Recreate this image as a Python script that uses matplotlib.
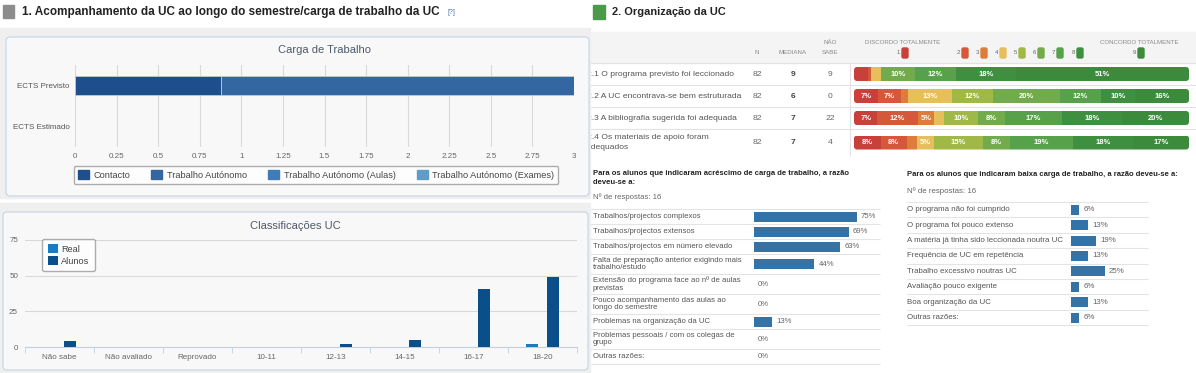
import numpy as np
import matplotlib
matplotlib.use("Agg")
import matplotlib.pyplot as plt
from matplotlib.patches import Rectangle, FancyBboxPatch, Patch

# ---- data ----
carga_cats = ["ECTS Previsto", "ECTS Estimado"]
contacto = [0.875, 0]
trab_autonomo = [2.125, 0]
trab_aulas = [0, 0]
trab_exames = [0, 0]

grades = ["Não sabe", "Não avaliado", "Reprovado", "10-11", "12-13", "14-15", "16-17", "18-20"]
real = [0, 0, 0, 0, 0, 0, 0, 2]
alunos = [4, 0, 0, 0, 2, 5, 41, 49]

questions = ["2.1 O programa previsto foi leccionado",
             "2.2 A UC encontrava-se bem estruturada",
             "2.3 A bibliografia sugerida foi adequada",
             "2.4 Os materiais de apoio foram\nadequados"]
n_resp = [82, 82, 82, 82]
mediana = [9, 6, 7, 7]
nao_sabe = [9, 0, 22, 4]
q21 = [4, 1, 0, 3, 0, 10, 12, 18, 51]
q22 = [7, 7, 2, 13, 12, 20, 12, 10, 16]
q23 = [7, 12, 5, 3, 10, 8, 17, 18, 20]
q24 = [8, 8, 3, 5, 15, 8, 19, 18, 17]

acr_labels = ["Trabalhos/projectos complexos",
              "Trabalhos/projectos extensos",
              "Trabalhos/projectos em número elevado",
              "Falta de preparação anterior exigindo mais\ntrabalho/estudo",
              "Extensão do programa face ao nº de aulas\nprevistas",
              "Pouco acompanhamento das aulas ao\nlongo do semestre",
              "Problemas na organização da UC",
              "Problemas pessoais / com os colegas de\ngrupo",
              "Outras razões:"]
acr_vals = [75, 69, 63, 44, 0, 0, 13, 0, 0]

baixa_labels = ["O programa não foi cumprido",
                "O programa foi pouco extenso",
                "A matéria já tinha sido leccionada noutra UC",
                "Frequência de UC em repetência",
                "Trabalho excessivo noutras UC",
                "Avaliação pouco exigente",
                "Boa organização da UC",
                "Outras razões:"]
baixa_vals = [6, 13, 19, 13, 25, 6, 13, 6]

# ---- figure setup ----
W, H = 1196, 373
HTML = ["Liberation Sans", "DejaVu Sans"]
HC = ["Liberation Sans Narrow", "Liberation Sans", "DejaVu Sans"]
plt.rcParams["font.family"] = HTML

fig = plt.figure(figsize=(W / 100, H / 100), dpi=100)
bg = fig.add_axes([0, 0, 1, 1])
bg.set_xlim(0, W)
bg.set_ylim(H, 0)
bg.axis("off")


def add_ax(x0, y0, x1, y1):
    return fig.add_axes([x0 / W, 1 - y1 / H, (x1 - x0) / W, (y1 - y0) / H])


# ================= right section (drawn first, left panels overlap it) =================
bg.add_patch(Rectangle((593, 5), 12, 14, color="#4a9a48", zorder=3))
bg.text(612, 12, "2. Organização da UC", fontsize=7.9, fontweight="bold", va="center", color="#222")

bg.add_patch(Rectangle((590, 32), W - 590, 31, color="#f4f4f4", zorder=0))
hdr_kw = dict(fontsize=4.4, color="#888", ha="center", va="center")
bg.text(757, 52, "N", **hdr_kw)
bg.text(793, 52, "MEDIANA", **hdr_kw)
bg.text(830, 42, "NÃO", **hdr_kw)
bg.text(830, 52, "SABE", **hdr_kw)
bg.text(903, 43, "DISCORDO TOTALMENTE", **hdr_kw)
bg.text(1139, 43, "CONCORDO TOTALMENTE", **hdr_kw)

likert_colors = ["#c8403a", "#d6583a", "#de7c3a", "#e6bf5c", "#a0b846",
                 "#72ab4c", "#58a14b", "#3f8f41", "#3c8b3d"]
swatch_x = [903, 963, 982, 1001, 1020, 1039, 1058, 1078, 1139]
for i, (sx, c) in enumerate(zip(swatch_x, likert_colors)):
    bg.add_patch(FancyBboxPatch((sx - 1, 48), 6, 10, boxstyle="round,pad=0,rounding_size=1.5",
                                color=c, zorder=3))
    bg.text(sx - 3, 53, str(i + 1), fontsize=4.4, color="#666", ha="right", va="center")

# rows of the table
row_h = [22 if "\n" not in q else 27 for q in questions]
top = 63
row_c = []
y = top
for h in row_h:
    row_c.append(y + h / 2)
    y += h
bg.hlines([top] + list(np.cumsum(row_h)[:-1] + top), 590, W, color="#e2e2e2", lw=0.8)
bg.vlines(850, top, y, color="#e2e2e2", lw=0.8)
for q, c, n, m, ns in zip(questions, row_c, n_resp, mediana, nao_sabe):
    bg.text(587, c, q, fontsize=6.1, color="#555", va="center", linespacing=1.45, zorder=1)
    bg.text(757, c, str(n), fontsize=6.1, color="#666", ha="center", va="center")
    bg.text(793, c, str(m), fontsize=6.1, color="#444", ha="center", va="center", fontweight="bold")
    bg.text(830, c, str(ns), fontsize=6.1, color="#666", ha="center", va="center")

ax3 = add_ax(854, top, 1189, y)
ax3.set_xlim(0, 100)
ax3.set_ylim(y - top, 0)
ax3.axis("off")
bar_h = 14
# one x unit is 3.35 px, one y unit is 1 px
for row, c in zip([q21, q22, q23, q24], row_c):
    vals = np.array(row, dtype=float)
    widths = vals / vals.sum() * 100
    lefts = np.concatenate([[0], np.cumsum(widths)[:-1]])
    clip = FancyBboxPatch((0, c - top - bar_h / 2), 100, bar_h,
                          boxstyle="round,pad=0,rounding_size=0.9", mutation_aspect=3.35,
                          fc="none", lw=0)
    ax3.add_patch(clip)
    bars = ax3.barh([c - top] * len(vals), widths, left=lefts, height=bar_h, color=likert_colors, lw=0)
    for b in bars:
        b.set_clip_path(clip)
    for v, w, l in zip(row, widths, lefts):
        if v >= 5:
            ax3.text(l + w / 2, c - top, f"{v}%", color="white", fontsize=5.5,
                     fontweight="bold", ha="center", va="center")

# list: acréscimo de carga
bg.text(593, 178, "Para os alunos que indicaram acréscimo de carga de trabalho, a razão\ndeveu-se a:",
        fontsize=5.5, fontweight="bold", color="#222", va="center", linespacing=1.25)
bg.text(593, 197, "Nº de respostas: 16", fontsize=5.6, color="#666", va="center")
acr_h = [15 if "\n" not in s else 20 for s in acr_labels]
acr_top = 209
acr_bot = acr_top + sum(acr_h)
edges = acr_top + np.concatenate([[0], np.cumsum(acr_h)])
bg.hlines(edges, 590, 880, color="#e4e4e4", lw=0.8)
acr_c = (edges[:-1] + edges[1:]) / 2
for s, c in zip(acr_labels, acr_c):
    bg.text(593, c, s, fontsize=5.6, color="#555", va="center", linespacing=1.1)
ax4 = add_ax(754, acr_top, 891, acr_bot)
ax4.set_xlim(0, 100)
ax4.set_ylim(acr_bot, acr_top)
ax4.axis("off")
ax4.barh(acr_c, acr_vals, height=10, color="#3572a5", lw=0)
for v, c in zip(acr_vals, acr_c):
    ax4.annotate(f"{v}%", (v, c), xytext=(3, 0), textcoords="offset points",
                 fontsize=5.6, color="#666", va="center")

# list: baixa carga
bg.text(907, 175, "Para os alunos que indicaram baixa carga de trabalho, a razão deveu-se a:",
        fontsize=5.5, fontweight="bold", color="#222", va="center")
bg.text(907, 191, "Nº de respostas: 16", fontsize=5.7, color="#666", va="center")
b_top, b_h = 202, 15.4
b_edges = b_top + b_h * np.arange(len(baixa_labels) + 1)
bg.hlines(b_edges, 907, 1148, color="#e4e4e4", lw=0.8)
b_c = (b_edges[:-1] + b_edges[1:]) / 2
for s, c in zip(baixa_labels, b_c):
    bg.text(907, c, s, fontsize=5.7, color="#555", va="center")
ax5 = add_ax(1071, b_top, 1138, b_edges[-1])
ax5.set_xlim(0, 50)
ax5.set_ylim(b_edges[-1], b_top)
ax5.axis("off")
ax5.barh(b_c, baixa_vals, height=10, color="#3572a5", lw=0)
for v, c in zip(baixa_vals, b_c):
    ax5.annotate(f"{v}%", (v, c), xytext=(3, 0), textcoords="offset points",
                 fontsize=5.7, color="#666", va="center")

# ================= left section =================
bg.add_patch(Rectangle((3, 5), 11, 13, color="#8c8c8c", zorder=3))
bg.text(22, 12, "1. Acompanhamento da UC ao longo do semestre/carga de trabalho da UC",
        fontsize=8.5, fontweight="bold", va="center", color="#222")
bg.text(447, 13, "[?]", fontsize=5, color="#4a7ab5", va="center")

bg.add_patch(Rectangle((0, 28), 590, 170, color="#efefef", zorder=2))
bg.add_patch(FancyBboxPatch((6, 37), 583, 159, boxstyle="round,pad=0,rounding_size=4",
                            fc="#f8f8f8", ec="#c5d3e3", lw=0.8, zorder=2))
bg.add_patch(Rectangle((0, 203), 590, 170, color="#efefef", zorder=2))
bg.add_patch(FancyBboxPatch((3, 212), 585, 158, boxstyle="round,pad=0,rounding_size=4",
                            fc="#f8f8f8", ec="#c5d3e3", lw=0.8, zorder=2))

bg.text(324, 50, "Carga de Trabalho", fontsize=8, color="#4d5a6a", ha="center", va="center",
        family=HC, zorder=4)
bg.text(295, 226, "Classificações UC", fontsize=8, color="#4d5a6a", ha="center", va="center",
        family=HC, zorder=4)

# Carga de Trabalho
carga_colors = ["#1f4e8c", "#3466a2", "#3f7db9", "#5f9cc9"]
carga_names = ["Contacto", "Trabalho Autónomo", "Trabalho Autónomo (Aulas)", "Trabalho Autónomo (Exames)"]
ax1 = add_ax(75, 65, 574, 147)
ax1.set_facecolor("none")
yy = np.arange(len(carga_cats))
left = np.zeros(len(carga_cats))
for vals, col in zip([contacto, trab_autonomo, trab_aulas, trab_exames], carga_colors):
    vals = np.array(vals, dtype=float)
    m = vals > 0
    ax1.barh(yy[m], vals[m], left=left[m], height=0.47, color=col, edgecolor="#c9c9c9", lw=0.6, zorder=3)
    left += vals
ax1.set_xlim(0, 3)
ax1.set_ylim(1.5, -0.5)
xt = np.arange(0, 3.01, 0.25)
ax1.set_xticks(xt)
ax1.set_xticklabels([f"{v:g}" for v in xt], fontsize=5.8, color="#666", family=HC)
ax1.set_yticks(yy)
ax1.set_yticklabels(carga_cats, fontsize=5.8, color="#555", family=HC)
ax1.tick_params(length=0, pad=4)
ax1.grid(axis="x", color="#d9d9d9", lw=0.8)
ax1.set_axisbelow(True)
for s in ax1.spines.values():
    s.set_visible(False)
leg1 = ax1.legend([Patch(color=c) for c in carga_colors], carga_names, ncol=4, loc="center",
                  bbox_to_anchor=(316 / W, 1 - 175 / H), bbox_transform=fig.transFigure,
                  prop={"family": HC, "size": 6.6}, frameon=True, fancybox=True, edgecolor="#999",
                  handlelength=1.2, handleheight=1.0, columnspacing=2.3, handletextpad=0.5,
                  borderpad=0.45, borderaxespad=0)
for t in leg1.get_texts():
    t.set_color("#444")

# Classificações UC
ax2 = add_ax(25, 240, 577, 347)
ax2.set_facecolor("none")
x = np.arange(len(grades))
ax2.bar(x - 0.15, real, width=0.17, color="#1a7bbd", label="Real", zorder=3)
ax2.bar(x + 0.15, alunos, width=0.17, color="#0b4f8a", label="Alunos", zorder=3)
ax2.set_xlim(-0.5, len(grades) - 0.5)
ax2.set_ylim(0, 75)
ax2.set_yticks([0, 25, 50, 75])
ax2.set_yticklabels(["0", "25", "50", "75"], fontsize=5.8, color="#666", family=HC)
ax2.set_xticks(x)
ax2.set_xticklabels(grades, fontsize=5.8, color="#666", family=HC)
ax2.set_xticks(np.arange(-0.5, len(grades)), minor=True)
ax2.tick_params(axis="both", which="major", length=0, pad=5)
ax2.tick_params(axis="x", which="minor", length=4, color="#c0d0e0")
ax2.grid(axis="y", color="#d9d9d9", lw=0.8)
ax2.set_axisbelow(True)
for k, s in ax2.spines.items():
    s.set_visible(k == "bottom")
ax2.spines["bottom"].set_color("#c0d0e0")
leg2 = ax2.legend(loc="upper left", bbox_to_anchor=(42 / W, 1 - 239 / H), bbox_transform=fig.transFigure,
                  prop={"family": HC, "size": 6.6}, frameon=True, fancybox=True, edgecolor="#999",
                  handlelength=1.1, handleheight=1.1, handletextpad=0.4, borderpad=0.6,
                  labelspacing=0.25, borderaxespad=0)
for t in leg2.get_texts():
    t.set_color("#444")

fig.savefig("out.png", dpi=100)
